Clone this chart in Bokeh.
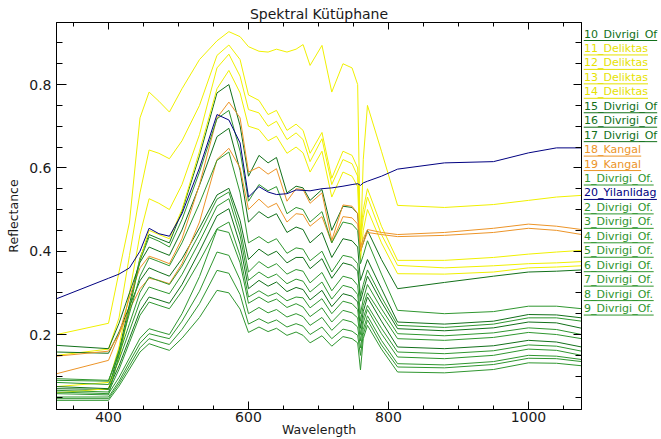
from bokeh.plotting import figure
from bokeh.layouts import row
from bokeh.models import Range1d, FixedTicker, LinearAxis
from bokeh.core.properties import value
from bokeh.embed import file_html
from bokeh.resources import INLINE

# ---------------- data ----------------
W = [326, 400, 415, 430, 445, 458, 472, 487, 505, 530, 555, 572, 588, 600,
     615, 628, 640, 655, 668, 678, 688, 705, 719, 735, 748, 756, 760, 764, 770, 790, 813,
     880, 950, 1000, 1040, 1076]

div10 = [0.070, 0.068, 0.161, 0.273, 0.384, 0.440, 0.430, 0.420, 0.496, 0.629, 0.780, 0.800, 0.701, 0.580,
         0.630, 0.612, 0.625, 0.540, 0.556, 0.552, 0.522, 0.548, 0.450, 0.508, 0.505, 0.490, 0.400, 0.420, 0.450, 0.380, 0.310,
         0.325, 0.340, 0.350, 0.352, 0.355]
del11 = [0.200, 0.227, 0.350, 0.470, 0.720, 0.782, 0.760, 0.734, 0.790, 0.860, 0.905, 0.927, 0.915, 0.891,
         0.880, 0.878, 0.885, 0.878, 0.885, 0.896, 0.846, 0.894, 0.782, 0.850, 0.840, 0.800, 0.400, 0.620, 0.750, 0.640, 0.510,
         0.505, 0.512, 0.522, 0.530, 0.534]
del12 = [0.150, 0.165, 0.240, 0.390, 0.540, 0.643, 0.635, 0.622, 0.665, 0.750, 0.870, 0.895, 0.860, 0.775,
         0.762, 0.728, 0.738, 0.690, 0.705, 0.690, 0.635, 0.685, 0.575, 0.640, 0.630, 0.600, 0.440, 0.500, 0.550, 0.460, 0.378,
         0.378, 0.385, 0.393, 0.398, 0.402]
del13 = [0.075, 0.085, 0.170, 0.300, 0.440, 0.526, 0.515, 0.500, 0.560, 0.680, 0.840, 0.873, 0.820, 0.740,
         0.732, 0.700, 0.712, 0.668, 0.684, 0.668, 0.615, 0.670, 0.560, 0.620, 0.610, 0.580, 0.420, 0.480, 0.530, 0.440, 0.366,
         0.360, 0.365, 0.370, 0.372, 0.375]
del14 = [0.060, 0.070, 0.140, 0.260, 0.380, 0.450, 0.440, 0.430, 0.500, 0.640, 0.790, 0.834, 0.780, 0.700,
         0.692, 0.665, 0.676, 0.635, 0.650, 0.636, 0.590, 0.640, 0.530, 0.590, 0.580, 0.555, 0.380, 0.450, 0.500, 0.420, 0.346,
         0.345, 0.350, 0.360, 0.362, 0.365]
div15 = [0.174, 0.166, 0.227, 0.300, 0.373, 0.410, 0.400, 0.390, 0.451, 0.558, 0.675, 0.695, 0.594, 0.470,
         0.495, 0.480, 0.490, 0.445, 0.458, 0.452, 0.420, 0.445, 0.385, 0.430, 0.425, 0.410, 0.330, 0.350, 0.380, 0.310, 0.230,
         0.225, 0.232, 0.248, 0.247, 0.240]
div16 = [0.158, 0.155, 0.206, 0.268, 0.329, 0.360, 0.350, 0.340, 0.382, 0.456, 0.535, 0.551, 0.474, 0.380,
         0.405, 0.390, 0.400, 0.372, 0.385, 0.385, 0.358, 0.382, 0.335, 0.372, 0.366, 0.352, 0.280, 0.305, 0.340, 0.278, 0.214,
         0.209, 0.216, 0.230, 0.228, 0.215]
div17 = [0.075, 0.070, 0.125, 0.191, 0.257, 0.290, 0.283, 0.275, 0.320, 0.400, 0.485, 0.502, 0.416, 0.310,
         0.330, 0.316, 0.326, 0.303, 0.313, 0.308, 0.283, 0.306, 0.267, 0.298, 0.292, 0.278, 0.215, 0.255, 0.290, 0.232, 0.170,
         0.166, 0.173, 0.186, 0.182, 0.170]
kan18 = [0.106, 0.138, 0.200, 0.290, 0.360, 0.388, 0.380, 0.370, 0.430, 0.560, 0.720, 0.758, 0.720, 0.590,
         0.602, 0.585, 0.598, 0.520, 0.550, 0.548, 0.515, 0.540, 0.426, 0.511, 0.508, 0.490, 0.410, 0.430, 0.452, 0.445, 0.440,
         0.445, 0.455, 0.465, 0.460, 0.452]
kan19 = [0.148, 0.160, 0.200, 0.260, 0.310, 0.335, 0.330, 0.322, 0.370, 0.470, 0.620, 0.647, 0.600, 0.500,
         0.525, 0.505, 0.515, 0.470, 0.490, 0.488, 0.460, 0.483, 0.420, 0.483, 0.480, 0.465, 0.400, 0.420, 0.445, 0.440, 0.435,
         0.438, 0.445, 0.455, 0.450, 0.440]
div1 = [0.058, 0.055, 0.150, 0.263, 0.377, 0.434, 0.424, 0.410, 0.476, 0.590, 0.718, 0.738, 0.640, 0.520,
        0.560, 0.545, 0.555, 0.490, 0.505, 0.500, 0.470, 0.495, 0.420, 0.470, 0.465, 0.450, 0.370, 0.390, 0.425, 0.345, 0.258,
        0.250, 0.255, 0.268, 0.268, 0.262]
yil20 = [0.286, 0.335, 0.345, 0.360, 0.400, 0.455, 0.442, 0.436, 0.490, 0.600, 0.728, 0.715, 0.660, 0.530,
         0.555, 0.542, 0.536, 0.538, 0.547, 0.546, 0.545, 0.550, 0.552, 0.556, 0.560, 0.562, 0.558, 0.564, 0.568, 0.580, 0.597,
         0.612, 0.615, 0.636, 0.648, 0.648]
div2 = [0.090, 0.088, 0.162, 0.251, 0.340, 0.384, 0.375, 0.365, 0.420, 0.515, 0.618, 0.638, 0.540, 0.420,
        0.435, 0.420, 0.430, 0.395, 0.408, 0.405, 0.377, 0.400, 0.350, 0.390, 0.385, 0.370, 0.292, 0.320, 0.355, 0.290, 0.222,
        0.217, 0.225, 0.240, 0.240, 0.232]
div3 = [0.094, 0.090, 0.152, 0.226, 0.301, 0.338, 0.329, 0.320, 0.364, 0.442, 0.525, 0.542, 0.456, 0.350,
        0.375, 0.360, 0.370, 0.345, 0.356, 0.352, 0.324, 0.349, 0.305, 0.340, 0.334, 0.318, 0.250, 0.285, 0.320, 0.262, 0.202,
        0.197, 0.204, 0.216, 0.212, 0.200]
div4 = [0.085, 0.080, 0.139, 0.209, 0.279, 0.314, 0.306, 0.298, 0.344, 0.423, 0.508, 0.526, 0.438, 0.330,
        0.350, 0.336, 0.345, 0.322, 0.333, 0.328, 0.302, 0.326, 0.285, 0.318, 0.312, 0.296, 0.232, 0.270, 0.300, 0.248, 0.190,
        0.186, 0.193, 0.205, 0.200, 0.190]
div5 = [0.066, 0.062, 0.116, 0.181, 0.246, 0.278, 0.270, 0.262, 0.304, 0.376, 0.454, 0.470, 0.389, 0.290,
        0.305, 0.292, 0.300, 0.281, 0.290, 0.288, 0.264, 0.286, 0.250, 0.280, 0.274, 0.260, 0.200, 0.240, 0.270, 0.215, 0.158,
        0.154, 0.161, 0.175, 0.172, 0.160]
div6 = [0.062, 0.058, 0.097, 0.144, 0.191, 0.214, 0.207, 0.200, 0.250, 0.339, 0.452, 0.445, 0.372, 0.275,
        0.290, 0.277, 0.285, 0.265, 0.274, 0.266, 0.243, 0.264, 0.230, 0.258, 0.252, 0.240, 0.185, 0.228, 0.260, 0.202, 0.146,
        0.142, 0.150, 0.165, 0.162, 0.150]
div7 = [0.050, 0.050, 0.088, 0.134, 0.179, 0.202, 0.196, 0.190, 0.232, 0.304, 0.398, 0.390, 0.331, 0.250,
        0.265, 0.252, 0.260, 0.242, 0.250, 0.243, 0.222, 0.241, 0.210, 0.236, 0.230, 0.218, 0.168, 0.212, 0.245, 0.186, 0.130,
        0.127, 0.135, 0.150, 0.148, 0.140]
div8 = [0.046, 0.046, 0.082, 0.125, 0.168, 0.190, 0.183, 0.176, 0.212, 0.274, 0.354, 0.347, 0.296, 0.225,
        0.238, 0.227, 0.235, 0.218, 0.226, 0.220, 0.200, 0.218, 0.190, 0.213, 0.208, 0.198, 0.150, 0.200, 0.235, 0.175, 0.122,
        0.120, 0.128, 0.143, 0.142, 0.135]
div9 = [0.042, 0.042, 0.076, 0.117, 0.158, 0.178, 0.170, 0.162, 0.191, 0.241, 0.306, 0.300, 0.261, 0.205,
        0.218, 0.207, 0.215, 0.198, 0.206, 0.198, 0.180, 0.197, 0.172, 0.195, 0.190, 0.180, 0.115, 0.190, 0.222, 0.165, 0.110,
        0.108, 0.116, 0.132, 0.131, 0.125]

NAMES = ["10_Divrigi_Of", "11_Deliktas", "12_Deliktas", "13_Deliktas", "14_Deliktas",
         "15_Divrigi_Of", "16_Divrigi_Of", "17_Divrigi_Of", "18_Kangal", "19_Kangal",
         "1_Divrigi_Of.", "20_Yilanlidag", "2_Divrigi_Of.", "3_Divrigi_Of.", "4_Divrigi_Of.",
         "5_Divrigi_Of.", "6_Divrigi_Of.", "7_Divrigi_Of.", "8_Divrigi_Of.", "9_Divrigi_Of."]
SERIES = [div10, del11, del12, del13, del14, div15, div16, div17, kan18, kan19,
          div1, yil20, div2, div3, div4, div5, div6, div7, div8, div9]

XTICKS = [400, 600, 800, 1000]
XMINOR = [350, 450, 500, 550, 650, 700, 750, 850, 900, 950, 1050]
YTICKS = [0.2, 0.4, 0.6, 0.8]
YMINOR = [0.05, 0.1, 0.15, 0.25, 0.3, 0.35, 0.45, 0.5, 0.55, 0.65, 0.7, 0.75, 0.85, 0.9]

TITLE = "Spektral Kütüphane"
XLABEL = "Wavelength"
YLABEL = "Reflectance"

# ---------------- styling ----------------
DARK_GREEN = "#12701a"
GREEN = "#2f962f"
YELLOW = "#f0f000"
YELLOW_TXT = "#e6e200"
ORANGE = "#ec9428"
NAVY = "#000080"


def colour_of(name):
    if "Deliktas" in name:
        return YELLOW, YELLOW_TXT
    if "Kangal" in name:
        return ORANGE, ORANGE
    if "Yilanlidag" in name:
        return NAVY, NAVY
    if name.endswith("Of."):
        return GREEN, GREEN
    return DARK_GREEN, DARK_GREEN


FONT = "DejaVu Sans"
TXT = "#1a1a1a"
X0, X1 = 325.7, 1075.8
Y0, Y1 = 0.02, 0.949
H = 439
MAIN_W = 583
LEG_W = 78
FRAME_TOP, FRAME_BOTTOM = 22, 409

p = figure(width=MAIN_W, height=H, output_backend="svg", toolbar_location=None,
           x_range=Range1d(X0, X1), y_range=Range1d(Y0, Y1),
           x_axis_type=None, y_axis_type=None, title=TITLE,
           min_border_left=56, min_border_right=2, min_border_top=FRAME_TOP,
           min_border_bottom=H - FRAME_BOTTOM)
p.outline_line_color = "black"
p.outline_line_width = 1
p.background_fill_color = "white"
p.border_fill_color = "white"
p.title.align = "center"
p.title.text_font = FONT
p.title.text_font_size = "14px"
p.title.text_font_style = "normal"
p.title.text_color = TXT
p.title.standoff = 2

xt = FixedTicker(ticks=XTICKS, minor_ticks=XMINOR)
yt = FixedTicker(ticks=YTICKS, minor_ticks=YMINOR)

common = dict(axis_line_color="black", major_tick_line_color="black", minor_tick_line_color="black",
              major_tick_out=0, minor_tick_out=0, major_label_text_font=FONT,
              axis_label_text_font=FONT, axis_label_text_font_style="normal",
              axis_label_text_color=TXT)

bottom = LinearAxis(ticker=xt, major_tick_in=8, minor_tick_in=4, major_label_standoff=2,
                    major_label_text_font_size="14px", major_label_text_color=TXT,
                    axis_label=XLABEL, axis_label_text_font_size="12.5px",
                    axis_label_standoff=-3, **common)
left = LinearAxis(ticker=yt, major_tick_in=10, minor_tick_in=6, major_label_standoff=5,
                  major_label_text_font_size="14px", major_label_text_color=TXT,
                  axis_label=YLABEL, axis_label_text_font_size="12.5px",
                  axis_label_standoff=5, **common)
# mirrored axes: tick marks only
top = LinearAxis(ticker=xt, major_tick_in=7, minor_tick_in=4, major_label_standoff=0,
                 major_label_text_font_size="1px", major_label_text_color=None, **common)
right = LinearAxis(ticker=yt, major_tick_in=8, minor_tick_in=6, major_label_standoff=0,
                   major_label_text_font_size="1px", major_label_text_color=None, **common)
p.add_layout(bottom, "below")
p.add_layout(top, "above")
p.add_layout(left, "left")
p.add_layout(right, "right")

for name, vals in zip(NAMES, SERIES):
    lc, _ = colour_of(name)
    p.line(W, vals, line_color=lc, line_width=1)

# ---------------- legend panel (coloured, underlined names) ----------------
# its frame is aligned with the main frame, so use a pixel-like y range
leg = figure(width=LEG_W, height=H, output_backend="svg", toolbar_location=None,
             x_range=Range1d(0, LEG_W), y_range=Range1d(FRAME_BOTTOM, FRAME_TOP),
             x_axis_type=None, y_axis_type=None,
             min_border_left=0, min_border_right=0, min_border_top=FRAME_TOP,
             min_border_bottom=H - FRAME_BOTTOM)
leg.outline_line_color = None
leg.background_fill_color = "white"
leg.border_fill_color = "white"

CHAR_W = {"_": 5.5, "D": 8.47, "i": 3.06, "v": 6.5, "r": 4.52, "q": 6.98, "O": 8.66, "f": 3.87,
          ".": 3.5, "e": 6.77, "l": 3.06, "k": 6.37, "t": 4.31, "a": 6.74, "s": 5.73, "K": 7.21,
          "n": 6.97, "g": 6.98, "Y": 6.72, "d": 6.98}
LEG_X = 0.5
LEG_Y0 = 33.5
LEG_STEP = 14.45
xs, ys, cols, x0s, x1s, uys = [], [], [], [], [], []
for i, name in enumerate(NAMES):
    _, tc = colour_of(name)
    yc = LEG_Y0 + i * LEG_STEP
    xs.append(LEG_X)
    ys.append(yc)
    cols.append(tc)
    x0s.append(LEG_X - 0.5)
    x1s.append(LEG_X + sum(CHAR_W.get(c, 7.0) for c in name))
    uys.append(yc + 6.5)

leg.text(x=xs, y=ys, text=NAMES, text_color=cols, text_font=value(FONT), text_font_size="11px",
         text_align="left", text_baseline="middle")
leg.segment(x0=x0s, y0=uys, x1=x1s, y1=uys, line_color=cols, line_width=1)

layout = row(p, leg, spacing=0)
open("out.html", "w").write(file_html(layout, INLINE))
